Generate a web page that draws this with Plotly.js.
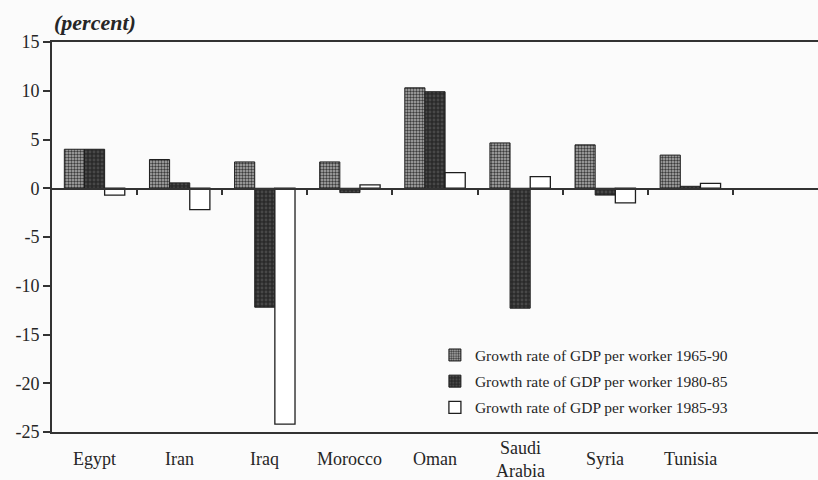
<!DOCTYPE html>
<html>
<head>
<meta charset="utf-8">
<script src="https://cdn.plot.ly/plotly-3.0.1.min.js"></script>
<style>
  html, body { margin: 0; padding: 0; background: #fbfbfb; overflow: hidden; }
  #chart { width: 824px; height: 480px; }
</style>
</head>
<body>
<div id="chart"></div>
<script>
// Countries along the category axis
const countries = ["Egypt", "Iran", "Iraq", "Morocco", "Oman", "Saudi<br>Arabia", "Syria", "Tunisia"];

// Growth rate of GDP per worker (percent)
const growth6590 = [4.0, 2.95, 2.7, 2.7, 10.3, 4.65, 4.45, 3.4];
const growth8085 = [4.0, 0.55, -12.2, -0.45, 9.9, -12.3, -0.7, 0.2];
const growth8593 = [-0.7, -2.2, -24.2, 0.35, 1.6, 1.2, -1.5, 0.5];

const seriesNames = [
  "Growth rate of GDP per worker 1965-90",
  "Growth rate of GDP per worker 1980-85",
  "Growth rate of GDP per worker 1985-93"
];

// Y-axis ticks, written with plain hyphens
const yTickVals = [15, 10, 5, 0, -5, -10, -15, -20, -25];
const yTickText = ["15", "10", "5", "0", "-5", "-10", "-15", "-20", "-25"];

// Small separators between country groups on the zero line
const groupBounds = [0.5, 1.5, 2.5, 3.5, 4.5, 5.5, 6.5, 7.5];

const ink = "#262626";
const frame = "#333";
const serif = "Liberation Serif, Times New Roman, serif";

// The frame runs open-ended past the right edge of the window
const xRange = [-0.5, 8.57];

const traces = [
  {
    type: "bar", x: countries, y: growth6590, name: seriesNames[0], legendgroup: "a",
    marker: {
      color: "#8a8a8a",
      line: { color: "#1e1e1e", width: 1 },
      pattern: { shape: ".", fgcolor: "#3c3c3c", bgcolor: "#b2b2b2", size: 3, solidity: 0.5 }
    }
  },
  {
    type: "bar", x: countries, y: growth8085, name: seriesNames[1], legendgroup: "b",
    marker: {
      color: "#2f2f2f",
      line: { color: "#1e1e1e", width: 1 },
      pattern: { shape: ".", fgcolor: "#484848", bgcolor: "#2a2a2a", size: 4, solidity: 0.4 }
    }
  },
  {
    type: "bar", x: countries, y: growth8593, name: seriesNames[2], legendgroup: "c",
    marker: { color: "#ffffff", line: { color: "#1e1e1e", width: 1.3 } }
  },
  {
    // invisible carrier for the zero-line axis with group separators
    type: "scatter", x: [0], y: [0], xaxis: "x2", mode: "markers",
    marker: { opacity: 0 }, showlegend: false, hoverinfo: "skip"
  }
];

// Country names centred under each group
const countryLabels = countries.map((c, i) => ({
  text: c, x: i, xref: "x", y: -27 / 390, yref: "paper",
  xanchor: "center", yanchor: "middle", showarrow: false,
  font: { family: serif, size: 18, color: ink }
}));

const layout = {
  width: 824, height: 480,
  paper_bgcolor: "#fbfbfb", plot_bgcolor: "#fbfbfb",
  margin: { l: 52, r: 0, t: 42, b: 48, pad: 0 },
  font: { family: serif, color: ink, size: 18 },
  barmode: "group", bargap: 0.29, bargroupgap: 0,
  showlegend: true,
  legend: {
    x: 0.496, y: 0.24, xanchor: "left", yanchor: "top",
    bgcolor: "rgba(0,0,0,0)", font: { family: serif, size: 15.5, color: ink },
    traceorder: "grouped", tracegroupgap: 3, itemwidth: 30
  },
  xaxis: {
    type: "category", range: xRange,
    showline: true, mirror: true, linecolor: frame, linewidth: 2,
    showgrid: false, zeroline: false, showticklabels: false, ticks: ""
  },
  xaxis2: {
    overlaying: "x", anchor: "free", position: 0.625, side: "bottom",
    range: xRange, showline: true, linecolor: frame, linewidth: 1.5,
    showgrid: false, zeroline: false, showticklabels: false,
    tickvals: groupBounds, ticks: "outside", ticklen: 5, tickwidth: 2, tickcolor: frame
  },
  yaxis: {
    range: [-25, 15], mirror: false,
    showline: true, linecolor: frame, linewidth: 2,
    showgrid: false, zeroline: false,
    tickvals: yTickVals, ticktext: yTickText,
    ticks: "outside", ticklen: 7, tickwidth: 2, tickcolor: frame,
    tickfont: { family: serif, size: 18, color: ink }
  },
  annotations: [{
    text: "<b><i>(percent)</i></b>", xref: "paper", yref: "paper",
    x: 0, y: 1 + 19 / 390, xanchor: "left", yanchor: "middle",
    showarrow: false, font: { family: serif, size: 22, color: ink }
  }].concat(countryLabels)
};

Plotly.newPlot("chart", traces, layout, { displayModeBar: false, staticPlot: true });
</script>
</body>
</html>
